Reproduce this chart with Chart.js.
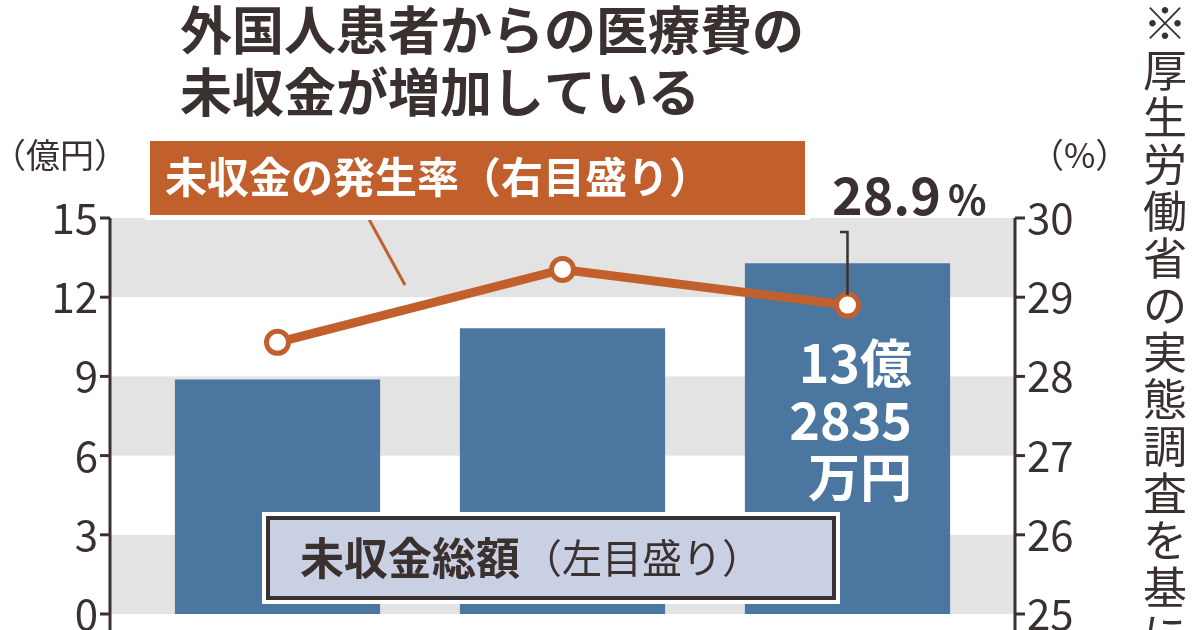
<!DOCTYPE html><html><head><meta charset="utf-8">
<script src="https://cdn.jsdelivr.net/npm/chart.js@4"></script>
<style>html,body{margin:0;padding:0;background:#fff}#w{width:1200px;height:630px}</style></head><body>
<div id="w"><canvas id="c" width="1200" height="630"></canvas></div>
<script>
const categories=["A","B","C"];
const totals=[8.88,10.82,13.2835];
const rates=[28.43,29.35,28.9];
const leftTicks=[0,3,6,9,12,15];
const rightTicks=[25,26,27,28,29,30];
const F='"Noto Sans CJK JP","Noto Sans",sans-serif';
const ORANGE='#c2602d',BLUE='#4b76a0',INK='#3a3030';
const deco={id:'deco',
beforeDatasetsDraw(ch){const c=ch.ctx,a=ch.chartArea,y=ch.scales.y;const L=a.left-25,R=a.right+25;
 for(let i=0;i<5;i++){if(i%2===0){const t=y.getPixelForValue(15-3*i),b=y.getPixelForValue(12-3*i);c.fillStyle='#e3e3e3';c.fillRect(L,t,R-L,b-t);}}
 c.strokeStyle=INK;c.lineWidth=3;c.beginPath();c.moveTo(L,y.getPixelForValue(15));c.lineTo(L,a.bottom+20);c.moveTo(R,y.getPixelForValue(15));c.lineTo(R,a.bottom+20);c.stroke();
 c.fillStyle=INK;c.font='42px '+F;c.textBaseline='middle';
 leftTicks.forEach(v=>{const p=y.getPixelForValue(v);c.textAlign='right';c.fillText(v,L-12,p);c.beginPath();c.moveTo(L-10,p);c.lineTo(L,p);c.stroke();});
 const y1=ch.scales.y1;rightTicks.forEach(v=>{const p=y1.getPixelForValue(v);c.textAlign='left';c.fillText(v,R+12,p);c.beginPath();c.moveTo(R,p);c.lineTo(R+10,p);c.stroke();});
},
afterDraw(ch){const c=ch.ctx;const m1=ch.getDatasetMeta(1).data,m0=ch.getDatasetMeta(0).data;
 c.textBaseline='alphabetic';
 c.fillStyle=INK;c.font='bold 52px '+F;c.textAlign='left';
 c.fillText('外国人患者からの医療費の',180,50);c.fillText('未収金が増加している',180,112);
 c.font='34px '+F;c.fillText('（億円）',-8,168);c.fillText('（%）',1030,168);
 // vertical note
 c.font='44px '+F;c.textAlign='center';const note='※厚生労働省の実態調査を基に作成';
 for(let i=0;i<note.length;i++)c.fillText(note[i],1165,40+i*47);
 // orange label
 c.strokeStyle=ORANGE;c.lineWidth=3;c.beginPath();c.moveTo(365,212);c.lineTo(405,285);c.stroke();
 c.fillStyle='#fff';c.fillRect(145,136,665,84);c.fillStyle=ORANGE;c.fillRect(150,141,655,74);
 c.fillStyle='#fff';c.font='bold 42px '+F;c.textAlign='left';c.fillText('未収金の発生率（右目盛り）',165,193);
 // 28.9%
 const p=m1[2];c.strokeStyle=INK;c.lineWidth=2.5;c.beginPath();c.moveTo(p.x,p.y-10);c.lineTo(p.x,232);c.lineTo(840,232);c.stroke();
 c.fillStyle=INK;c.font='bold 52px '+F;c.fillText('28.9',832,215);c.font='bold 40px '+F;c.fillText('%',948,215);
 // bar3 text
 c.fillStyle='#fff';c.font='bold 52px '+F;c.textAlign='right';
 c.fillText('13億',912,383);c.fillText('2835',912,440);c.fillText('万円',912,497);
 // bottom label
 c.fillStyle='#fff';c.fillRect(262,512,578,92);c.fillStyle=INK;c.fillRect(266,516,570,84);c.fillStyle='#c9d0e3';c.fillRect(270,520,562,76);
 c.fillStyle=INK;c.textAlign='left';c.font='bold 44px '+F;c.fillText('未収金総額',300,575);c.font='40px '+F;c.fillText('（左目盛り）',522,573);
}};
new Chart(document.getElementById('c'),{data:{labels:categories,datasets:[
 {type:'bar',data:totals,backgroundColor:BLUE,yAxisID:'y',barPercentage:0.72,categoryPercentage:1,order:2},
 {type:'line',data:rates,yAxisID:'y1',borderColor:ORANGE,borderWidth:9,pointRadius:11,pointBorderWidth:5,pointBackgroundColor:'#fff',pointBorderColor:ORANGE,order:1}]},
options:{responsive:false,animation:false,devicePixelRatio:1,layout:{padding:{left:135,right:210,top:218,bottom:10}},
 plugins:{legend:{display:false},tooltip:{enabled:false}},
 scales:{x:{display:false},y:{display:false,min:0,max:15},y1:{display:false,min:25,max:30}}},
plugins:[deco]});
</script></body></html>
